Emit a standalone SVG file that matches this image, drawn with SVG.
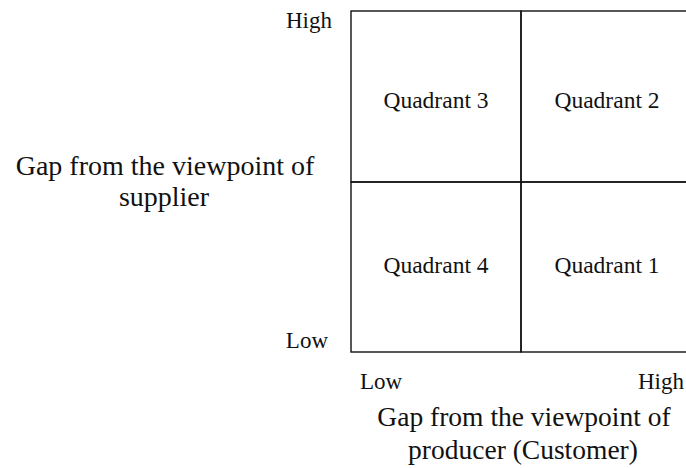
<svg xmlns="http://www.w3.org/2000/svg" width="686" height="468" viewBox="0 0 686 468">
  <style>
    .cell { fill: none; stroke: #111; stroke-width: 1.4; }
    .q { font-family: "Liberation Serif", "Times New Roman", serif; font-size: 23.5px; fill: #111; text-anchor: middle; }
    .tick { font-family: "Liberation Serif", "Times New Roman", serif; font-size: 23px; fill: #111; }
    .axis { font-family: "Liberation Serif", "Times New Roman", serif; font-size: 28px; fill: #111; text-anchor: middle; }
    .axis-b { font-size: 27.5px; }
  </style>
  <rect width="686" height="468" fill="#ffffff"/>
  <g id="quadrant3">
    <rect class="cell" x="351" y="11" width="170" height="171"/>
    <text class="q" x="436" y="108">Quadrant 3</text>
  </g>
  <g id="quadrant2">
    <rect class="cell" x="521" y="11" width="180" height="171"/>
    <text class="q" x="607" y="108">Quadrant 2</text>
  </g>
  <g id="quadrant4">
    <rect class="cell" x="351" y="182" width="170" height="170"/>
    <text class="q" x="436" y="273">Quadrant 4</text>
  </g>
  <g id="quadrant1">
    <rect class="cell" x="521" y="182" width="180" height="170"/>
    <text class="q" x="607" y="273">Quadrant 1</text>
  </g>
  <g id="y-axis">
    <text class="tick" x="332" y="28" text-anchor="end">High</text>
    <text class="tick" x="328" y="348" text-anchor="end">Low</text>
    <text class="axis" x="165" y="175">Gap from the viewpoint of</text>
    <text class="axis" x="164" y="206">supplier</text>
  </g>
  <g id="x-axis">
    <text class="tick" x="360" y="389">Low</text>
    <text class="tick" x="684" y="389" text-anchor="end">High</text>
    <text class="axis axis-b" x="524" y="426">Gap from the viewpoint of</text>
    <text class="axis axis-b" x="523" y="459">producer (Customer)</text>
  </g>
  <g id="connectors"></g>
</svg>
